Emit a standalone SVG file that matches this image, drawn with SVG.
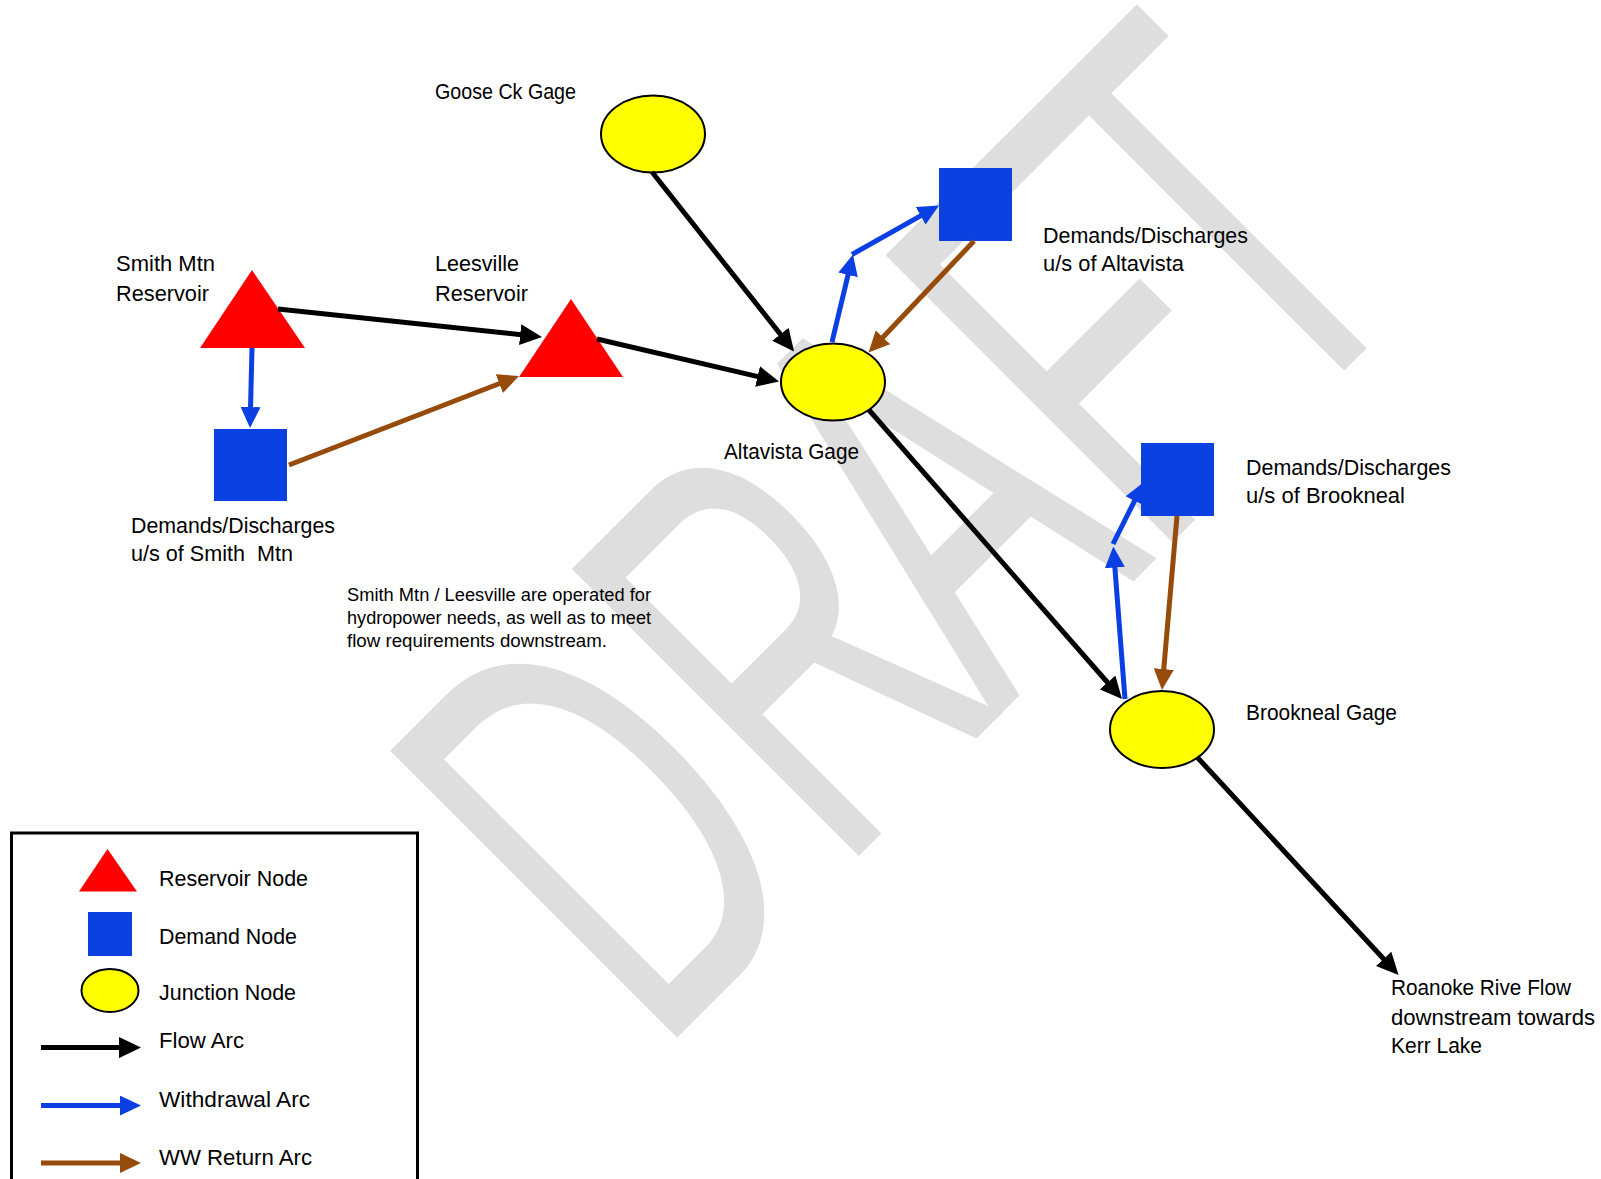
<svg xmlns="http://www.w3.org/2000/svg" width="1601" height="1179" viewBox="0 0 1601 1179">
<defs>
<style>
.lbl{font-family:"Liberation Sans",Arial,sans-serif;font-size:21.5px;fill:#000}
.note{font-family:"Liberation Sans",Arial,sans-serif;font-size:17.5px;fill:#000}
.res{fill:#ff0000}
.dem{fill:#0a41e0}
.jun{fill:#ffff00;stroke:#000;stroke-width:2}
.flow{stroke:#000;stroke-width:5;fill:none;marker-end:url(#ah-black)}
.wd{stroke:#0a3fe3;stroke-width:5;fill:none;marker-end:url(#ah-blue)}
.ret{stroke:#964b0a;stroke-width:5;fill:none;marker-end:url(#ah-brown)}
.wm{font-family:"Liberation Sans",Arial,sans-serif;font-size:590px;fill:#dedede}
</style>
<marker id="ah-black" markerUnits="userSpaceOnUse" markerWidth="22" markerHeight="21" refX="10" refY="10.5" orient="auto"><path d="M0,0 L22,10.5 L0,21 z" fill="#000"/></marker>
<marker id="ah-blue" markerUnits="userSpaceOnUse" markerWidth="21" markerHeight="20" refX="10" refY="10" orient="auto"><path d="M0,0 L21,10 L0,20 z" fill="#0a3fe3"/></marker>
<marker id="ah-brown" markerUnits="userSpaceOnUse" markerWidth="21" markerHeight="20" refX="10" refY="10" orient="auto"><path d="M0,0 L21,10 L0,20 z" fill="#964b0a"/></marker>
</defs>
<rect width="1601" height="1179" fill="#fff"/>
<g id="watermark">
<text class="wm" transform="translate(857.5,857.5) rotate(-45) scale(0.58,1)" x="-488 -45 337 720 1034" y="0">DRAFT</text>
</g>
<g id="nodes">
<g id="goose"><ellipse class="jun" cx="653" cy="134" rx="52" ry="38.5"/><text class="lbl" x="435" y="99" textLength="141" lengthAdjust="spacingAndGlyphs">Goose Ck Gage</text></g>
<g id="smith"><polygon class="res" points="252,270 200,348 305,348"/><text class="lbl" x="116" y="271" textLength="99" lengthAdjust="spacingAndGlyphs">Smith Mtn</text><text class="lbl" x="116" y="300.5" textLength="93" lengthAdjust="spacingAndGlyphs">Reservoir</text></g>
<g id="leesville"><polygon class="res" points="571,299 519,377 623,377"/><text class="lbl" x="435" y="271" textLength="84" lengthAdjust="spacingAndGlyphs">Leesville</text><text class="lbl" x="435" y="300.5" textLength="93" lengthAdjust="spacingAndGlyphs">Reservoir</text></g>
<g id="smith-demand"><rect class="dem" x="214" y="429" width="73" height="72"/><text class="lbl" x="131" y="532.5" textLength="204" lengthAdjust="spacingAndGlyphs">Demands/Discharges</text><text class="lbl" x="131" y="561" textLength="162" lengthAdjust="spacingAndGlyphs" xml:space="preserve">u/s of Smith  Mtn</text></g>
<g id="altavista"><ellipse class="jun" cx="833" cy="382" rx="52" ry="38.5"/><text class="lbl" x="724" y="459" textLength="135" lengthAdjust="spacingAndGlyphs">Altavista Gage</text></g>
<g id="altavista-demand"><rect class="dem" x="939" y="168" width="73" height="73"/><text class="lbl" x="1043" y="242.5" textLength="205" lengthAdjust="spacingAndGlyphs">Demands/Discharges</text><text class="lbl" x="1043" y="271" textLength="141" lengthAdjust="spacingAndGlyphs">u/s of Altavista</text></g>
<g id="brookneal-demand"><rect class="dem" x="1141" y="443" width="73" height="73"/><text class="lbl" x="1246" y="474.5" textLength="205" lengthAdjust="spacingAndGlyphs">Demands/Discharges</text><text class="lbl" x="1246" y="503" textLength="159" lengthAdjust="spacingAndGlyphs">u/s of Brookneal</text></g>
<g id="brookneal"><ellipse class="jun" cx="1162" cy="729.5" rx="52" ry="38.5"/><text class="lbl" x="1246" y="720" textLength="151" lengthAdjust="spacingAndGlyphs">Brookneal Gage</text></g>
<g id="outlet"><text class="lbl" x="1391" y="995" textLength="180" lengthAdjust="spacingAndGlyphs">Roanoke Rive Flow</text><text class="lbl" x="1391" y="1024.5" textLength="204" lengthAdjust="spacingAndGlyphs">downstream towards</text><text class="lbl" x="1391" y="1053" textLength="91" lengthAdjust="spacingAndGlyphs">Kerr Lake</text></g>
<g id="note"><text class="note" x="347" y="601" textLength="304" lengthAdjust="spacingAndGlyphs">Smith Mtn / Leesville are operated for</text><text class="note" x="347" y="624" textLength="304" lengthAdjust="spacingAndGlyphs">hydropower needs, as well as to meet</text><text class="note" x="347" y="647" textLength="260" lengthAdjust="spacingAndGlyphs">flow requirements downstream.</text></g>
</g>
<g id="connectors">
<line class="flow" x1="278" y1="309" x2="530.1" y2="335.7"/>
<line class="flow" x1="597" y1="339" x2="767.3" y2="378.8"/>
<line class="flow" x1="652" y1="172" x2="786.6" y2="342.1"/>
<line class="flow" x1="869" y1="410" x2="1114.1" y2="690"/>
<line class="flow" x1="1197" y1="757" x2="1390.4" y2="966.2"/>
<line class="wd" x1="252" y1="348" x2="250.3" y2="417"/>
<line class="ret" x1="289" y1="465" x2="508.7" y2="380"/>
<line class="wd" x1="832" y1="342" x2="850.4" y2="265.2"/>
<line class="wd" x1="852" y1="254.5" x2="929.4" y2="210.9"/>
<line class="ret" x1="974" y1="241" x2="876.1" y2="344.5"/>
<line class="wd" x1="1125" y1="699" x2="1114.1" y2="557.5"/>
<line class="wd" x1="1113" y1="544" x2="1139.1" y2="491.8"/>
<line class="ret" x1="1177" y1="516" x2="1162.9" y2="679"/>
</g>
<g id="legend">
<rect x="11.5" y="833" width="406" height="400" fill="none" stroke="#000" stroke-width="3"/>
<polygon class="res" points="107.5,849 79,891.5 137,891.5"/>
<rect class="dem" x="88" y="912" width="44" height="44"/>
<ellipse class="jun" cx="110" cy="990.5" rx="28.5" ry="21.5"/>
<line class="flow" x1="41" y1="1047.6" x2="129" y2="1047.6"/>
<line class="wd" x1="41" y1="1105.6" x2="130" y2="1105.6"/>
<line class="ret" x1="41" y1="1163" x2="130" y2="1163"/>
<text class="lbl" x="159" y="885.5" textLength="149" lengthAdjust="spacingAndGlyphs">Reservoir Node</text>
<text class="lbl" x="159" y="943.5" textLength="138" lengthAdjust="spacingAndGlyphs">Demand Node</text>
<text class="lbl" x="159" y="1000" textLength="137" lengthAdjust="spacingAndGlyphs">Junction Node</text>
<text class="lbl" x="159" y="1048" textLength="85" lengthAdjust="spacingAndGlyphs">Flow Arc</text>
<text class="lbl" x="159" y="1107" textLength="151" lengthAdjust="spacingAndGlyphs">Withdrawal Arc</text>
<text class="lbl" x="159" y="1164.5" textLength="153" lengthAdjust="spacingAndGlyphs">WW Return Arc</text>
</g>
</svg>
